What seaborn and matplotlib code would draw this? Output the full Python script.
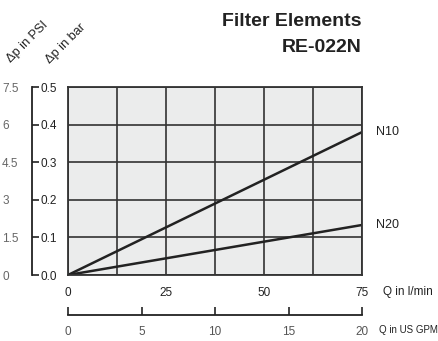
import numpy as np
import pandas as pd
import matplotlib
matplotlib.use("Agg")
import matplotlib.pyplot as plt
import seaborn as sns

# dados
vazao_lmin = [0, 75]
dp_n10 = [0, 0.38]
dp_n20 = [0, 0.133]
ticks_lmin = [0, 25, 50, 75]
ticks_gpm = [0, 5, 10, 15, 20]
ticks_bar = [0.0, 0.1, 0.2, 0.3, 0.4, 0.5]
labels_psi = ["0", "1.5", "3", "4.5", "6", "7.5"]

sns.set_style("white")
plt.rcParams['font.family'] = ['Liberation Sans Narrow', 'Liberation Sans', 'DejaVu Sans']

df = pd.DataFrame({
    'Q': vazao_lmin * 2,
    'dp': dp_n10 + dp_n20,
    'serie': ['N10'] * len(vazao_lmin) + ['N20'] * len(vazao_lmin),
})

W, H = 438, 341
fig = plt.figure(figsize=(W / 100, H / 100), dpi=100)
x0, x1 = 68 / W, 362 / W
y0, y1 = 1 - 275 / H, 1 - 87 / H
escuro = '#222222'
cinza = '#555555'

ax = fig.add_axes([x0, y0, x1 - x0, y1 - y0])
ax.set_facecolor('#ebecec')
sns.lineplot(data=df, x='Q', y='dp', hue='serie', palette=[escuro, escuro],
             linewidth=1.8, legend=False, ax=ax)
ax.set_xlim(0, 75)
ax.set_ylim(0, 0.5)
ax.set_xticks(np.arange(0, 76, 12.5))
ax.set_xticklabels([str(int(v)) if v in ticks_lmin else '' for v in np.arange(0, 76, 12.5)])
ax.set_yticks(ticks_bar)
ax.set_yticklabels([])
ax.grid(True, color='#333333', linewidth=1.2)
ax.tick_params(axis='x', length=0, pad=9, labelsize=8.5, labelcolor=escuro)
ax.tick_params(axis='y', length=0)
ax.set_xlabel('')
ax.set_ylabel('')
for s in ax.spines.values():
    s.set_color('#333333')
    s.set_linewidth(1.3)

for nome, vals in [('N10', dp_n10), ('N20', dp_n20)]:
    ax.annotate(nome, xy=(75, vals[-1]), xytext=(10, 0), textcoords='offset points',
                va='center', ha='left', fontsize=9, color=escuro, annotation_clip=False)

# eixo em bar
ax_bar = fig.add_axes([32 / W, y0, 0.0001, y1 - y0])
ax_bar.set_ylim(0, 0.5)
ax_bar.set_xticks([])
ax_bar.yaxis.tick_right()
ax_bar.set_yticks(ticks_bar)
ax_bar.set_yticklabels([f'{v:.1f}' for v in ticks_bar])
ax_bar.tick_params(axis='y', direction='out', length=5, width=1.2, pad=1,
                   labelsize=8.5, labelcolor=escuro, color=escuro)
for k in ['left', 'top', 'bottom']:
    ax_bar.spines[k].set_visible(False)
ax_bar.spines['right'].set_color(escuro)
ax_bar.spines['right'].set_linewidth(1.3)
ax_bar.patch.set_visible(False)

# eixo em PSI
ax_psi = fig.add_axes([2 / W, y0, 0.0001, y1 - y0])
ax_psi.set_ylim(0, 0.5)
ax_psi.set_xticks([])
ax_psi.yaxis.tick_right()
ax_psi.set_yticks(ticks_bar)
ax_psi.set_yticklabels(labels_psi)
ax_psi.tick_params(axis='y', length=0, pad=0, labelsize=8.5, labelcolor='#666666')
for s in ax_psi.spines.values():
    s.set_visible(False)
ax_psi.patch.set_visible(False)

# eixo em US GPM
yg = 1 - 315 / H
ax_gpm = fig.add_axes([x0, yg, x1 - x0, 0.0001])
ax_gpm.set_xlim(0, 20)
ax_gpm.set_yticks([])
ax_gpm.set_xticks(ticks_gpm)
ax_gpm.set_xticklabels([str(v) for v in ticks_gpm])
ax_gpm.tick_params(axis='x', bottom=True, direction='in', length=6, width=1.2, pad=8,
                   labelsize=8.5, labelcolor=cinza, color=escuro)
for k in ['left', 'top', 'right']:
    ax_gpm.spines[k].set_visible(False)
ax_gpm.spines['bottom'].set_color(escuro)
ax_gpm.spines['bottom'].set_linewidth(1.3)
ax_gpm.patch.set_visible(False)

fig.text(383 / W, 1 - 292 / H, 'Q in l/min', fontsize=8.5, color=escuro, va='center', ha='left')
fig.text(379 / W, 1 - 330 / H, 'Q in US GPM', fontsize=7, color=escuro, va='center', ha='left')

fig.text(13 / W, 1 - 65 / H, 'Δp in PSI', fontsize=9.2, color=escuro, rotation=45,
         rotation_mode='anchor', ha='left', va='bottom')
fig.text(52 / W, 1 - 66 / H, 'Δp in bar', fontsize=9.2, color=escuro, rotation=45,
         rotation_mode='anchor', ha='left', va='bottom')

fig.text(x1, 1 - 22 / H, 'Filter Elements', fontsize=14, fontweight='bold',
         color=escuro, ha='right', va='center')
fig.text(x1, 1 - 47 / H, 'RE-022N', fontsize=14, fontweight='bold',
         color=escuro, ha='right', va='center')

fig.savefig('out.png', dpi=100)
